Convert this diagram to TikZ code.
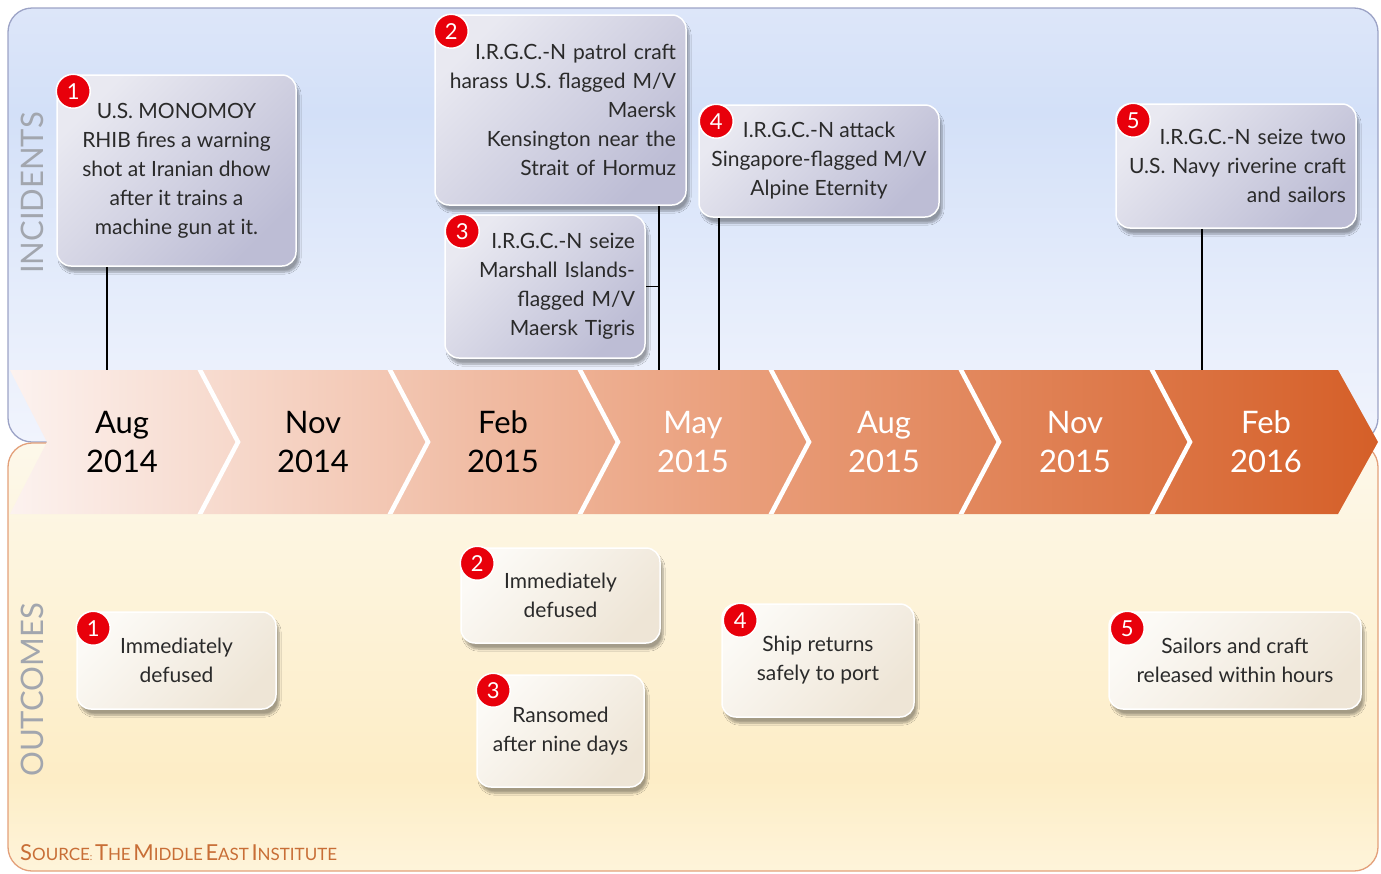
\documentclass[tikz,border=0pt]{standalone}
\usepackage{fontspec}
\setmainfont{Lato}
\usetikzlibrary{calc,shadows,shadows.blur}
\definecolor{pT}{HTML}{DDE6F9}
\definecolor{pM}{HTML}{D3E0F8}
\definecolor{pM2}{HTML}{E6EDFB}
\definecolor{pB}{HTML}{F1F4FD}
\definecolor{oT}{HTML}{FDF8EA}
\definecolor{oM}{HTML}{FDEDC6}
\definecolor{oB}{HTML}{FEF4DA}
\definecolor{panblue}{HTML}{9CA3C6}
\definecolor{panorange}{HTML}{E3A07A}
\definecolor{labgray}{HTML}{A2A6AE}
\definecolor{incL}{HTML}{E9E9F1}
\definecolor{incR}{HTML}{BDBDD5}
\definecolor{outL}{HTML}{FCFAF6}
\definecolor{outR}{HTML}{EEE5D6}
\definecolor{badgered}{HTML}{E8000B}
\definecolor{bandL}{HTML}{FCF2EF}
\definecolor{bandM}{HTML}{EBA381}
\definecolor{bandR}{HTML}{D55F28}
\definecolor{srccol}{HTML}{C86E36}
\definecolor{txt}{HTML}{2A2A2A}
\pgfdeclareverticalshading{incsh}{100bp}{color(0bp)=(pB); color(25bp)=(pB); color(41bp)=(pM2); color(63bp)=(pM); color(75bp)=(pT); color(100bp)=(pT)}
\pgfdeclareverticalshading{outsh}{100bp}{color(0bp)=(oB); color(25bp)=(oB); color(36bp)=(oM); color(75bp)=(oT); color(100bp)=(oT)}
\newcommand\mysc[2]{{\fontsize{22}{22}\selectfont #1}{\fontsize{17}{17}\selectfont #2}}
\begin{document}
\begin{tikzpicture}[x=1pt,y=-1pt,
  incbox/.style={rounded corners=14pt, draw=white, line width=1.5pt,
    top color=incL, bottom color=incR, shading angle=45,
    blur shadow={shadow xshift=3pt, shadow yshift=-6pt, shadow opacity=35, shadow blur steps=8},
    font=\fontsize{21}{29}\selectfont, text=txt, inner xsep=10pt, inner ysep=4pt},
  outbox/.style={incbox, top color=outL, bottom color=outR, shading angle=45},
  badge/.style={circle, fill=badgered, draw=white, line width=1.5pt, text=white,
    font=\fontsize{22}{22}\selectfont, minimum size=34pt, inner sep=0pt},
  conn/.style={line width=1.8pt, black},
  chev/.style={font=\fontsize{31}{39}\selectfont, align=center},
  sidelabel/.style={rotate=90, text=labgray, font=\fontsize{31}{31}\selectfont}
]
\useasboundingbox (0,0) rectangle (1381,873);
% panels
\draw[panblue, line width=1.3pt, rounded corners=24pt, shading=incsh] (8,8) rectangle (1378,442);
\draw[panorange, line width=1.3pt, rounded corners=24pt, shading=outsh] (8,443) rectangle (1378,871);
\node[sidelabel] (lin) at (32,193) {INCIDENTS};
\node[sidelabel] (lout) at (32,690) {OUTCOMES};
% band
\path[left color=bandL, right color=bandR, middle color=bandM]
  (10,370) -- (1338,370) -- (1378,442) -- (1338,514) -- (10,514) -- (47,442) -- cycle;
\begin{scope}
  \clip (10,370) -- (1338,370) -- (1378,442) -- (1338,514) -- (10,514) -- (47,442) -- cycle;
  \foreach \xb in {200,390,580,771,961,1152}
    \draw[white, line width=4.5pt] (\xb-1,368) -- (\xb+38,442) -- (\xb-1,516);
\end{scope}
\node[chev, text=black] (c1) at (122,442) {Aug\\2014};
\node[chev, text=black] (c2) at (313,442) {Nov\\2014};
\node[chev, text=black] (c3) at (503,442) {Feb\\2015};
\node[chev, text=white] (c4) at (693,442) {May\\2015};
\node[chev, text=white] (c5) at (884,442) {Aug\\2015};
\node[chev, text=white] (c6) at (1075,442) {Nov\\2015};
\node[chev, text=white] (c7) at (1266,442) {Feb\\2016};
% incident boxes
\node[incbox, align=center, minimum width=239pt, minimum height=191pt] (i1) at (176.5,170.5)
  {U.S. MONOMOY\\RHIB fires a warning\\shot at Iranian dhow\\after it trains a\\machine gun at it.};
\node[incbox, align=right, text width=231pt, minimum height=190pt] (i2) at (560.5,110)
  {I.R.G.C.-N patrol craft\\harass U.S. flagged M/V\\Maersk\\Kensington near the\\Strait of Hormuz};
\node[incbox, align=right, text width=180pt, minimum height=143pt] (i3) at (545,286.5)
  {I.R.G.C.-N seize\\Marshall Islands-\\flagged M/V\\Maersk Tigris};
\node[incbox, align=center, minimum width=240pt, minimum height=112pt] (i4) at (819,161)
  {I.R.G.C.-N attack\\Singapore-flagged M/V\\Alpine Eternity};
\node[incbox, align=right, text width=220pt, minimum height=124pt] (i5) at (1236,166)
  {I.R.G.C.-N seize two\\U.S. Navy riverine craft\\and sailors};
% connectors
\coordinate (t1) at (107,370);
\coordinate (t2) at (659,370);
\coordinate (t4) at (719,370);
\coordinate (t5) at (1202,370);
\draw[conn] (i1.south -| t1) -- (t1);
\draw[conn] (i2.south -| t2) -- (t2);
\draw[conn] (i3.east) -- (i3.east -| t2);
\draw[conn] (i4.south -| t4) -- (t4);
\draw[conn] (i5.south -| t5) -- (t5);
% outcome boxes
\node[outbox, align=center, minimum width=199pt, minimum height=97pt] (o1) at (176.5,660.5)
  {Immediately\\defused};
\node[outbox, align=center, minimum width=199pt, minimum height=95pt] (o2) at (560.5,595.5)
  {Immediately\\defused};
\node[outbox, align=center, minimum width=167pt, minimum height=112pt] (o3) at (560.5,731)
  {Ransomed\\after nine days};
\node[outbox, align=center, minimum width=192pt, minimum height=113pt] (o4) at (818,660.5)
  {Ship returns\\safely to port};
\node[outbox, align=center, minimum width=252pt, minimum height=97pt] (o5) at (1235,660.5)
  {Sailors and craft\\released within hours};
% badges
\node[badge] (bi1) at ($(i1.north west)+(17,17)$) {1};
\node[badge] (bi2) at ($(i2.north west)+(17,17)$) {2};
\node[badge] (bi3) at ($(i3.north west)+(18,17)$) {3};
\node[badge] (bi4) at ($(i4.north west)+(18,17)$) {4};
\node[badge] (bi5) at ($(i5.north west)+(18,17)$) {5};
\node[badge] (bo1) at ($(o1.north west)+(17,17)$) {1};
\node[badge] (bo2) at ($(o2.north west)+(17,16)$) {2};
\node[badge] (bo3) at ($(o3.north west)+(17,16)$) {3};
\node[badge] (bo4) at ($(o4.north west)+(19,17)$) {4};
\node[badge] (bo5) at ($(o5.north west)+(19,17)$) {5};
% source
\node[anchor=base west, text=srccol, inner sep=0pt] (src) at (20,860)
  {\mysc{S}{OURCE}:\ \mysc{T}{HE} \mysc{M}{IDDLE} \mysc{E}{AST} \mysc{I}{NSTITUTE}};
\end{tikzpicture}
\end{document}
